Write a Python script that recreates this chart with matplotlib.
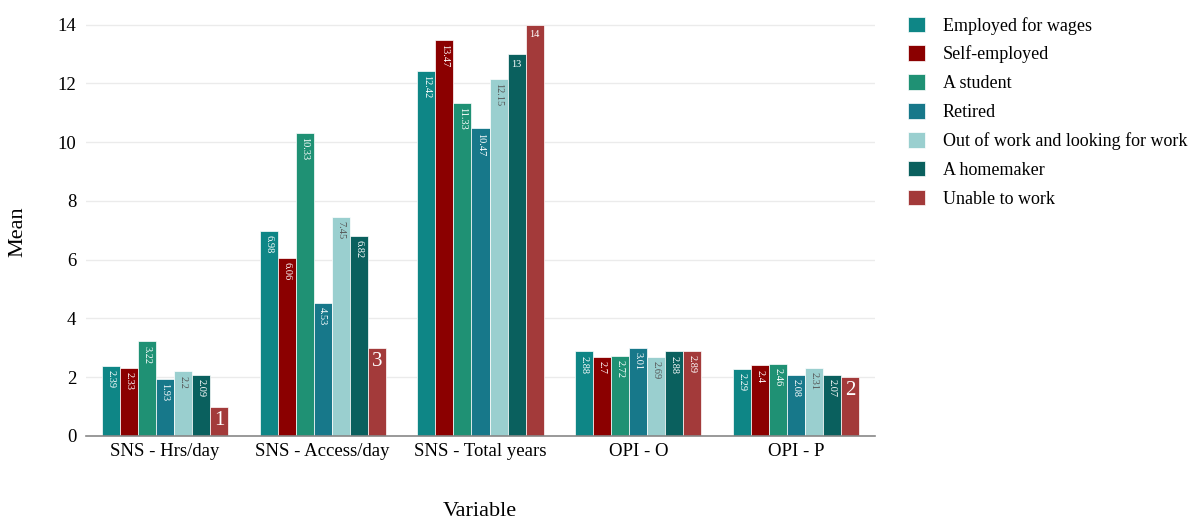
import matplotlib
matplotlib.use("Agg")
import matplotlib.pyplot as plt
import numpy as np

variables = ["SNS - Hrs/day", "SNS - Access/day", "SNS - Total years", "OPI - O", "OPI - P"]
groups = ["Employed for wages", "Self-employed", "A student", "Retired",
          "Out of work and looking for work", "A homemaker", "Unable to work"]
employed = [2.39, 6.98, 12.42, 2.88, 2.29]
self_employed = [2.33, 6.06, 13.47, 2.7, 2.4]
student = [3.22, 10.33, 11.33, 2.72, 2.46]
retired = [1.93, 4.53, 10.47, 3.01, 2.08]
out_of_work = [2.2, 7.45, 12.15, 2.69, 2.31]
homemaker = [2.09, 6.82, 13, 2.88, 2.07]
unable = [1, 3, 14, 2.89, 2]
series = [employed, self_employed, student, retired, out_of_work, homemaker, unable]
colors = ["#0e8686", "#8b0000", "#1f9174", "#17788a", "#9acfcf", "#0a605e", "#a33a3a"]
text_colors = ["white", "white", "white", "white", "#555555", "white", "white"]
yticks = [0, 2, 4, 6, 8, 10, 12, 14]

plt.rcParams['font.family'] = ['Liberation Serif', 'DejaVu Serif']

fig = plt.figure(figsize=(12.04, 5.21), dpi=100)
ax = fig.add_axes([86/1204, 1-436/521, (875-86)/1204, (436-10)/521])

n = len(series)
group_w = 0.8
bw = group_w / n
x = np.arange(len(variables))
for i, (vals, c, tc, name) in enumerate(zip(series, colors, text_colors, groups)):
    pos = x - group_w/2 + bw*(i+0.5)
    ax.bar(pos, vals, width=bw, color=c, edgecolor="white", linewidth=0.5, label=name, zorder=3)
    for p, v in zip(pos, vals):
        s = f"{v:g}"
        if len(s) == 1:
            ax.annotate(s, (p, v), xytext=(0, -3), textcoords="offset points",
                        ha="center", va="top", color=tc, fontsize=15, zorder=4)
        elif len(s) == 2:
            ax.annotate(s, (p, v), xytext=(0, -4), textcoords="offset points",
                        ha="center", va="top", color=tc, fontsize=7.5, zorder=4)
        else:
            ax.annotate(s, (p, v), xytext=(0, -3), textcoords="offset points",
                        ha="center", va="top", color=tc, fontsize=7.5, rotation=-90, zorder=4)

ax.set_xlim(-0.5, len(variables)-0.5)
ax.set_ylim(0, 14.5)
ax.set_yticks(yticks)
ax.set_xticks(x)
ax.set_xticklabels(variables, fontsize=13.5)
ax.tick_params(axis='y', labelsize=13.5, length=0, pad=7)
ax.tick_params(axis='x', length=0, pad=5)
ax.grid(axis='y', color="#ebebeb", linewidth=1, zorder=0)
for s in ["top", "right", "left"]:
    ax.spines[s].set_visible(False)
ax.spines["bottom"].set_color("#888888")
ax.spines["bottom"].set_linewidth(1.2)
ax.spines["bottom"].set_zorder(5)

fig.text(18/1204, 1-232/521, "Mean", rotation=90, ha="center", va="center", fontsize=16)
fig.text(480/1204, 1-512/521, "Variable", ha="center", va="center", fontsize=16)

leg = fig.legend(loc="upper left", bbox_to_anchor=(895/1204, 1-4/521), frameon=False,
                 fontsize=13, handlelength=0.95, handleheight=0.95, handletextpad=1.0,
                 labelspacing=0.6, borderaxespad=0.3)

fig.savefig("out.png", dpi=100, facecolor="white")
